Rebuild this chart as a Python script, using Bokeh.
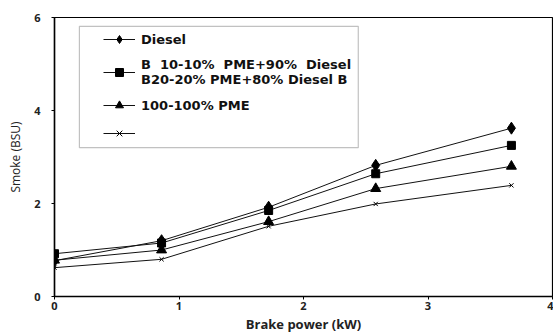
from bokeh.plotting import figure
from bokeh.models import Legend, LegendItem, BoxAnnotation, FixedTicker
from bokeh.embed import file_html
from bokeh.resources import INLINE

brake_power = [0.0, 0.86, 1.72, 2.58, 3.67]
diesel = [0.77, 1.20, 1.92, 2.82, 3.62]
b10_b20 = [0.92, 1.15, 1.85, 2.64, 3.25]
pme100 = [0.78, 1.00, 1.61, 2.32, 2.80]
series5 = [0.62, 0.80, 1.51, 1.99, 2.39]

labels = ["Diesel", "B  10-10%  PME+90%  Diesel\nB20-20% PME+80% Diesel B", "100-100% PME", ""]
FONT = "Open Sans"
LFONT = "DejaVu Sans"

p = figure(width=553, height=335, output_backend="svg", toolbar_location=None,
           x_range=(0, 4), y_range=(0, 6),
           frame_width=498, frame_height=279,
           min_border_left=54, min_border_right=1, min_border_top=17, min_border_bottom=39)
p.grid.visible = False
p.background_fill_color = "white"
p.border_fill_color = "white"
p.outline_line_color = "black"
p.outline_line_width = 1.2

renderers = []
specs = [(diesel, "diamond", 12), (b10_b20, "square", 8), (pme100, "triangle", 10), (series5, "x", 6)]
for ys, mk, sz in specs:
    l = p.line(brake_power, ys, line_color="#111", line_width=1.0)
    m = p.scatter(brake_power, ys, marker=mk, size=sz, fill_color="black", line_color="black", line_width=1)
    renderers.append([l, m])

items = [LegendItem(label=lab, renderers=r) for lab, r in zip(labels, renderers)]
legend = Legend(items=items, location=(49, 153), padding=0, margin=0, spacing=8,
                glyph_width=32, glyph_height=20, label_standoff=6,
                label_text_font=LFONT, label_text_font_style="bold", label_text_font_size="13px",
                label_text_color="#111", border_line_alpha=0, background_fill_alpha=0)
p.add_layout(legend)

p.add_layout(BoxAnnotation(left=0.2, right=2.44, bottom=3.2, top=5.81,
                           fill_alpha=0, line_color="#333", line_width=1.2))

for ax in (p.xaxis[0], p.yaxis[0]):
    ax.axis_line_color = "black"
    ax.axis_line_width = 1.5
    ax.major_tick_line_color = "black"
    ax.major_tick_in = 0
    ax.major_tick_out = 3
    ax.minor_tick_line_color = None
    ax.major_label_text_font = FONT
    ax.major_label_text_font_style = "bold"
    ax.major_label_text_font_size = "11px"
    ax.major_label_text_color = "#222"
    ax.axis_label_text_font = FONT
    ax.axis_label_text_color = "#222"

p.xaxis.ticker = FixedTicker(ticks=[0, 1, 2, 3, 4])
p.yaxis.ticker = FixedTicker(ticks=[0, 2, 4, 6])
p.xaxis.axis_label = "Brake power (kW)"
p.xaxis.axis_label_text_font_style = "bold"
p.xaxis.axis_label_text_font_size = "13px"
p.xaxis.axis_label_standoff = 2
p.xaxis.major_label_standoff = 2
p.yaxis.axis_label = "Smoke (BSU)"
p.yaxis.axis_label_text_font_style = "normal"
p.yaxis.axis_label_text_font_size = "12px"
p.yaxis.axis_label_standoff = 7
p.yaxis.major_label_standoff = 11

open("out.html", "w").write(file_html(p, INLINE))
